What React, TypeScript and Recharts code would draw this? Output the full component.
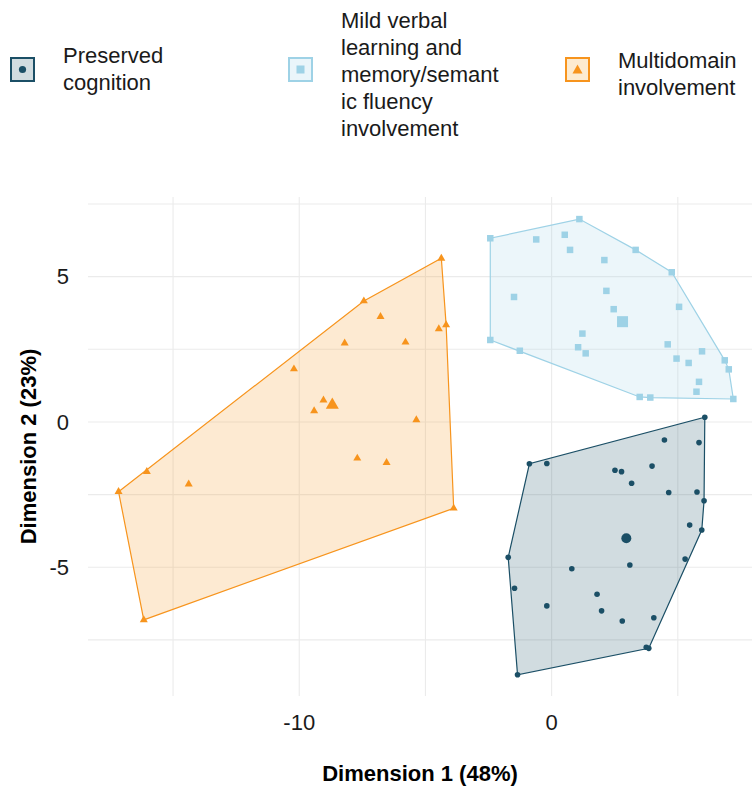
import React from 'react';
import { ScatterChart, Scatter, XAxis, YAxis, CartesianGrid } from 'recharts';

// colours per group
const DARK = '#1B4F66';
const LIGHT = '#9ED2E6';
const ORANGE = '#F7941D';

const legendLines = [
  ['Preserved', 'cognition'],
  ['Mild verbal', 'learning and', 'memory/semant', 'ic fluency', 'involvement'],
  ['Multidomain', 'involvement'],
];

// Dimension 1, Dimension 2
const preservedPoints: [number, number][] = [
  [6.07, 0.16], [4.47, -0.62], [5.84, -0.71], [-0.88, -1.44], [-0.19, -1.43],
  [2.51, -1.66], [2.77, -1.71], [3.98, -1.52], [3.17, -2.11], [4.64, -2.43],
  [5.76, -2.41], [6.04, -2.71], [5.47, -3.55], [5.95, -3.72], [3.1, -4.92],
  [5.29, -4.72], [-1.72, -4.66], [0.8, -5.05], [-1.47, -5.72], [1.8, -5.93],
  [-0.19, -6.33], [1.98, -6.5], [4.05, -6.74], [2.8, -6.85], [3.85, -7.79],
  [3.75, -7.75], [-1.35, -8.7],
];
const preservedCentroid: [number, number][] = [[2.96, -4.0]];

const mildPoints: [number, number][] = [
  [-2.43, 6.32], [1.1, 6.98], [-0.61, 6.28], [0.52, 6.44], [0.73, 5.92],
  [3.33, 5.92], [2.09, 5.57], [4.76, 5.15], [2.17, 4.51], [-1.49, 4.3],
  [5.05, 3.96], [2.46, 3.88], [-2.43, 2.82], [1.22, 3.04], [4.6, 2.67],
  [1.05, 2.57], [-1.26, 2.45], [1.35, 2.36], [5.96, 2.43], [4.95, 2.18],
  [5.43, 2.03], [6.86, 2.12], [7.02, 1.81], [5.84, 1.38], [5.74, 1.04],
  [3.49, 0.86], [3.91, 0.84], [7.2, 0.79],
];
const mildCentroid: [number, number][] = [[2.81, 3.45]];

const multiPoints: [number, number][] = [
  [-4.37, 5.63], [-7.44, 4.16], [-6.78, 3.62], [-4.47, 3.2], [-4.18, 3.34],
  [-8.2, 2.71], [-5.79, 2.74], [-10.21, 1.82], [-9.04, 0.75], [-9.41, 0.38],
  [-5.36, 0.07], [-7.7, -1.25], [-6.54, -1.4], [-16.04, -1.71], [-14.38, -2.14],
  [-17.16, -2.4], [-3.88, -2.97], [-16.16, -6.81],
];
const multiCentroid: [number, number][] = [[-8.69, 0.58]];

const xTicks = [-15, -10, -5, 0, 5];
const yTicks = [-7.5, -5, -2.5, 0, 2.5, 5, 7.5];

const toRows = (pts: [number, number][]) => pts.map(([x, y]) => ({ x, y }));

// convex hull (monotone chain), closed so the outline joins up
function hull(pts: [number, number][]) {
  const p = [...pts].sort((a, b) => a[0] - b[0] || a[1] - b[1]);
  const cross = (o: number[], a: number[], b: number[]) =>
    (a[0] - o[0]) * (b[1] - o[1]) - (a[1] - o[1]) * (b[0] - o[0]);
  const lower: [number, number][] = [];
  for (const q of p) {
    while (lower.length >= 2 && cross(lower[lower.length - 2], lower[lower.length - 1], q) <= 0) lower.pop();
    lower.push(q);
  }
  const upper: [number, number][] = [];
  for (const q of [...p].reverse()) {
    while (upper.length >= 2 && cross(upper[upper.length - 2], upper[upper.length - 1], q) <= 0) upper.pop();
    upper.push(q);
  }
  const h = lower.slice(0, -1).concat(upper.slice(0, -1));
  return toRows([...h, h[0]]);
}

const dot = (r: number, color: string) => (props: any) =>
  <circle cx={props.cx} cy={props.cy} r={r} fill={color} />;
const square = (s: number, color: string) => (props: any) =>
  <rect x={props.cx - s / 2} y={props.cy - s / 2} width={s} height={s} fill={color} />;
const triangle = (s: number, color: string) => (props: any) => {
  const h = s * 0.866;
  const { cx, cy } = props;
  return (
    <polygon
      points={`${cx},${cy - (2 * h) / 3} ${cx - s / 2},${cy + h / 3} ${cx + s / 2},${cy + h / 3}`}
      fill={color}
    />
  );
};
const nothing = () => <g />;

const FONT = '"Liberation Sans", Arial, sans-serif';

const LegendKey: React.FC<{ color: string; fill: string; kind: string }> = ({ color, fill, kind }) => (
  <svg width={25} height={25} style={{ display: 'block' }}>
    <rect x={1} y={1} width={23} height={23} fill={fill} stroke={color} strokeWidth={2} />
    {kind === 'circle' && <circle cx={12.5} cy={12.5} r={3.6} fill={color} />}
    {kind === 'square' && <rect x={8.5} y={8.5} width={8} height={8} fill={color} />}
    {kind === 'triangle' && <polygon points="12.5,7.5 7.5,16.5 17.5,16.5" fill={color} />}
  </svg>
);

const legendItems = [
  { color: DARK, fill: '#D1DCE0', kind: 'circle', keyX: 10, textX: 63, textTop: 42 },
  { color: LIGHT, fill: '#EAF5FA', kind: 'square', keyX: 288, textX: 341, textTop: 7 },
  { color: ORANGE, fill: '#FDEBD0', kind: 'triangle', keyX: 565, textX: 618, textTop: 47 },
];

const App: React.FC = () => {
  return (
    <div style={{ position: 'absolute', left: 0, top: 0, width: 752, height: 788, background: '#fff', fontFamily: FONT }}>
      {legendItems.map((item, i) => (
        <React.Fragment key={i}>
          <div style={{ position: 'absolute', left: item.keyX, top: 57 }}>
            <LegendKey color={item.color} fill={item.fill} kind={item.kind} />
          </div>
          <div style={{ position: 'absolute', left: item.textX, top: item.textTop, fontSize: 22, lineHeight: '27px', color: '#1a1a1a', whiteSpace: 'nowrap' }}>
            {legendLines[i].map((l) => <div key={l}>{l}</div>)}
          </div>
        </React.Fragment>
      ))}

      <div style={{ position: 'absolute', left: 0, top: 0 }}>
        <ScatterChart width={752} height={788} margin={{ top: 197, right: 0, bottom: 0, left: 0 }}>
          <CartesianGrid stroke="#EBEBEB" strokeWidth={1.1} horizontalValues={yTicks} verticalValues={xTicks} />
          <XAxis
            type="number"
            dataKey="x"
            domain={[-18.37, 7.94]}
            allowDataOverflow
            ticks={xTicks}
            interval={0}
            tickFormatter={(v: number) => (v % 10 === 0 ? String(v) : '')}
            axisLine={false}
            tickLine={false}
            tickSize={6}
            tickMargin={12}
            height={92}
            tick={{ fill: '#1a1a1a', fontSize: 22, fontFamily: FONT }}
            label={{ value: 'Dimension 1 (48%)', position: 'insideBottom', offset: 7, fill: '#000', fontSize: 22, fontWeight: 700, fontFamily: FONT }}
          />
          <YAxis
            type="number"
            dataKey="y"
            domain={[-9.43, 7.74]}
            allowDataOverflow
            ticks={yTicks}
            interval={0}
            tickFormatter={(v: number) => (v % 5 === 0 ? String(v) : '')}
            axisLine={false}
            tickLine={false}
            tickSize={6}
            tickMargin={13}
            width={88}
            tick={{ fill: '#1a1a1a', fontSize: 22, fontFamily: FONT }}
            label={{ value: 'Dimension 2 (23%)', angle: -90, position: 'insideLeft', offset: 28, fill: '#000', fontSize: 22, fontWeight: 700, fontFamily: FONT, style: { textAnchor: 'middle' } }}
          />

          {/* hulls */}
          <Scatter data={hull(preservedPoints)} shape={nothing} line={{ stroke: DARK, strokeWidth: 1.2, fill: DARK, fillOpacity: 0.2 }} lineType="joint" isAnimationActive={false} />
          <Scatter data={hull(mildPoints)} shape={nothing} line={{ stroke: LIGHT, strokeWidth: 1.2, fill: LIGHT, fillOpacity: 0.2 }} lineType="joint" isAnimationActive={false} />
          <Scatter data={hull(multiPoints)} shape={nothing} line={{ stroke: ORANGE, strokeWidth: 1.2, fill: ORANGE, fillOpacity: 0.2 }} lineType="joint" isAnimationActive={false} />

          {/* points */}
          <Scatter data={toRows(preservedPoints)} shape={dot(2.8, DARK)} isAnimationActive={false} />
          <Scatter data={toRows(preservedCentroid)} shape={dot(5, DARK)} isAnimationActive={false} />
          <Scatter data={toRows(mildPoints)} shape={square(6.5, LIGHT)} isAnimationActive={false} />
          <Scatter data={toRows(mildCentroid)} shape={square(11, LIGHT)} isAnimationActive={false} />
          <Scatter data={toRows(multiPoints)} shape={triangle(8, ORANGE)} isAnimationActive={false} />
          <Scatter data={toRows(multiCentroid)} shape={triangle(13, ORANGE)} isAnimationActive={false} />
        </ScatterChart>
      </div>
    </div>
  );
};

export default App;
